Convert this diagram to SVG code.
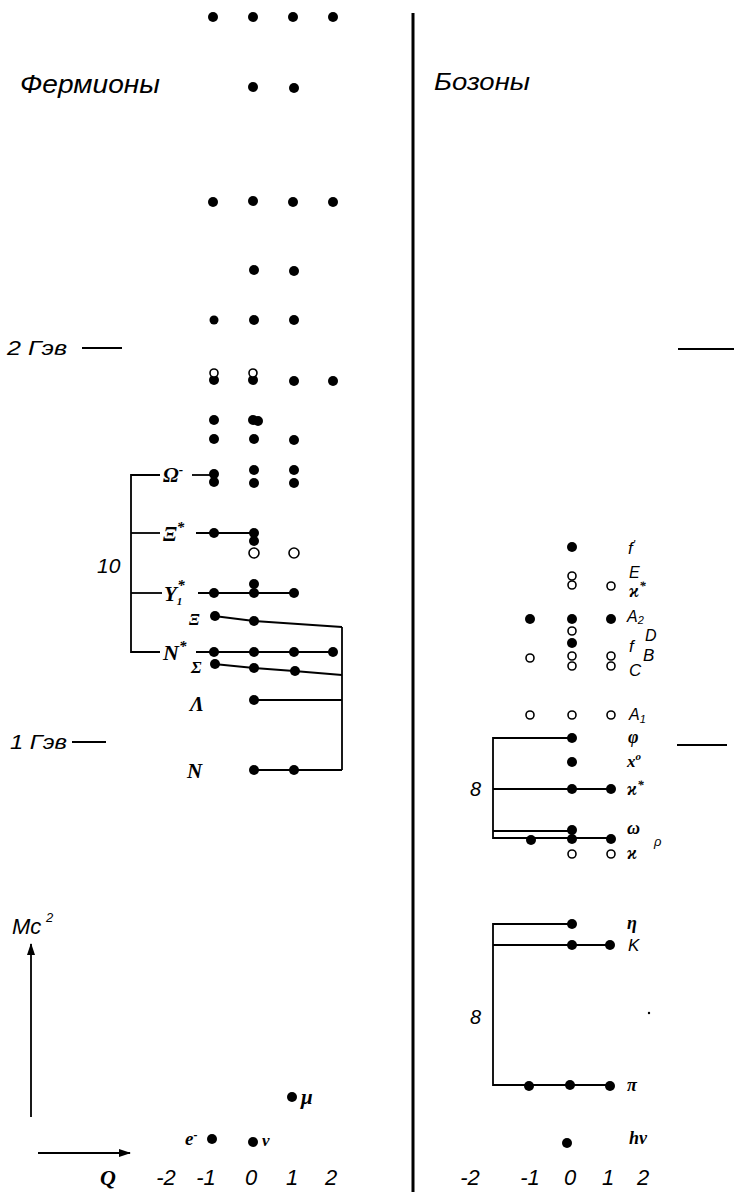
<svg xmlns="http://www.w3.org/2000/svg" width="734" height="1192" viewBox="0 0 734 1192">
<defs>
<style>
.f{fill:#000}
.o{fill:#fff;stroke:#000;stroke-width:1.6}
.ln{stroke:#000;stroke-width:1.8;fill:none}
.t{font-family:"Liberation Sans",sans-serif;font-style:italic;fill:#000}
.p{font-family:"Liberation Serif",serif;font-style:italic;font-weight:bold;fill:#000}
</style>
<marker id="ah" markerWidth="12" markerHeight="8" refX="11" refY="4" orient="auto" markerUnits="userSpaceOnUse">
<path d="M0,0 L12,4 L0,8 Z" fill="#000"/>
</marker>
</defs>
<rect width="734" height="1192" fill="#fff"/>

<g id="titles">
<text class="t" x="20" y="93" font-size="25" textLength="140" lengthAdjust="spacingAndGlyphs">Фермионы</text>
<text class="t" x="434" y="90" font-size="23" textLength="96" lengthAdjust="spacingAndGlyphs">Бозоны</text>
</g>

<g id="scale">
<text class="t" x="7" y="355" font-size="21" textLength="60" lengthAdjust="spacingAndGlyphs">2 Гэв</text>
<line class="ln" x1="82" y1="348" x2="122" y2="348"/>
<line class="ln" x1="678" y1="349" x2="734" y2="349"/>
<text class="t" x="10" y="749" font-size="21" textLength="57" lengthAdjust="spacingAndGlyphs">1 Гэв</text>
<line class="ln" x1="72" y1="742" x2="106" y2="742"/>
<line class="ln" x1="677" y1="745" x2="727" y2="745"/>
</g>

<g id="divider">
<line x1="413" y1="13" x2="413" y2="1192" stroke="#000" stroke-width="3"/>
</g>

<g id="axes">
<text class="t" x="12" y="934" font-size="22">Mc</text>
<text class="t" x="46" y="922" font-size="13">2</text>
<line class="ln" x1="31" y1="1117" x2="31" y2="944" marker-end="url(#ah)"/>
<line class="ln" x1="38" y1="1153" x2="130" y2="1153" marker-end="url(#ah)"/>
<text class="p" x="100" y="1185" font-size="22">Q</text>
<g class="t" font-size="22" text-anchor="middle">
<text x="166" y="1185">-2</text>
<text x="206" y="1185">-1</text>
<text x="251" y="1185">0</text>
<text x="292" y="1185">1</text>
<text x="331" y="1185">2</text>
<text x="470" y="1185">-2</text>
<text x="530" y="1185">-1</text>
<text x="570" y="1185">0</text>
<text x="608" y="1185">1</text>
<text x="643" y="1185">2</text>
</g>
</g>

<g id="connectors">
<polyline class="ln" points="160,475 131,475 131,652 160,652"/>
<line class="ln" x1="131" y1="533" x2="160" y2="533"/>
<line class="ln" x1="131" y1="593" x2="162" y2="593"/>
<line class="ln" x1="192" y1="475" x2="214" y2="475"/>
<line class="ln" x1="196" y1="533" x2="254" y2="533"/>
<line class="ln" x1="198" y1="593" x2="294" y2="593"/>
<line class="ln" x1="196" y1="652" x2="333" y2="652"/>
<polyline class="ln" points="214,616 254,621 342,627"/>
<polyline class="ln" points="214,664 254,668 294,671 342,675"/>
<line class="ln" x1="254" y1="700" x2="342" y2="700"/>
<line class="ln" x1="254" y1="770" x2="342" y2="770"/>
<line class="ln" x1="342" y1="627" x2="342" y2="770"/>
<polyline class="ln" points="572,738 493,738 493,838 611,838"/>
<line class="ln" x1="493" y1="789" x2="611" y2="789"/>
<line class="ln" x1="493" y1="831" x2="572" y2="831"/>
<polyline class="ln" points="572,924 493,924 493,1085 610,1085"/>
<line class="ln" x1="493" y1="945" x2="610" y2="945"/>
</g>

<g id="fermion-dots">
<circle class="f" cx="213" cy="17" r="5"/><circle class="f" cx="253" cy="17" r="5"/><circle class="f" cx="293" cy="17" r="5"/><circle class="f" cx="333" cy="17" r="5"/>
<circle class="f" cx="253" cy="87" r="5"/><circle class="f" cx="294" cy="88" r="5"/>
<circle class="f" cx="213" cy="202" r="5"/><circle class="f" cx="253" cy="201" r="5"/><circle class="f" cx="293" cy="202" r="5"/><circle class="f" cx="333" cy="202" r="5"/>
<circle class="f" cx="254" cy="270" r="5"/><circle class="f" cx="294" cy="271" r="5"/>
<circle class="f" cx="214" cy="320" r="4.5"/><circle class="f" cx="254" cy="320" r="5"/><circle class="f" cx="294" cy="320" r="5"/>
<circle class="f" cx="214" cy="380" r="5"/><circle class="f" cx="253" cy="380" r="5"/><circle class="f" cx="294" cy="381" r="5"/><circle class="f" cx="333" cy="381" r="5"/>
<circle class="o" cx="214" cy="373" r="4"/><circle class="o" cx="253" cy="373" r="4"/>
<circle class="f" cx="214" cy="420" r="5"/><circle class="f" cx="253" cy="420" r="5"/><circle class="f" cx="258" cy="421" r="5"/>
<circle class="f" cx="214" cy="439" r="5"/><circle class="f" cx="254" cy="439" r="5"/><circle class="f" cx="294" cy="440" r="5"/>
<circle class="f" cx="214" cy="474" r="5"/><circle class="f" cx="254" cy="470" r="5"/><circle class="f" cx="294" cy="470" r="5"/>
<circle class="f" cx="214" cy="482" r="5"/><circle class="f" cx="254" cy="483" r="5"/><circle class="f" cx="294" cy="483" r="5"/>
<circle class="f" cx="214" cy="533" r="5"/><circle class="f" cx="254" cy="533" r="5"/><circle class="f" cx="254" cy="541" r="5"/>
<circle class="o" cx="254" cy="553" r="5"/><circle class="o" cx="294" cy="553" r="5"/>
<circle class="f" cx="254" cy="584" r="5"/><circle class="f" cx="214" cy="593" r="5"/><circle class="f" cx="254" cy="593" r="5"/><circle class="f" cx="294" cy="593" r="5"/>
<circle class="f" cx="215" cy="616" r="5"/><circle class="f" cx="254" cy="621" r="5"/>
<circle class="f" cx="214" cy="652" r="5"/><circle class="f" cx="254" cy="652" r="5"/><circle class="f" cx="294" cy="652" r="5"/><circle class="f" cx="333" cy="652" r="5"/>
<circle class="f" cx="215" cy="664" r="5"/><circle class="f" cx="254" cy="668" r="5"/><circle class="f" cx="295" cy="671" r="5"/>
<circle class="f" cx="254" cy="700" r="5"/>
<circle class="f" cx="254" cy="770" r="5"/><circle class="f" cx="294" cy="770" r="5"/>
</g>

<g id="fermion-labels">
<text class="p" x="163" y="482" font-size="21">Ω<tspan font-size="13" dy="-8">-</tspan></text>
<text class="p" x="163" y="541" font-size="21">Ξ<tspan font-size="15" dy="-9">*</tspan></text>
<text class="p" x="164" y="601" font-size="21">Y<tspan font-size="11" dy="4">1</tspan><tspan font-size="15" dx="-5" dy="-15">*</tspan></text>
<text class="p" x="189" y="625" font-size="16">Ξ</text>
<text class="p" x="163" y="660" font-size="22">N<tspan font-size="15" dy="-9">*</tspan></text>
<text class="p" x="191" y="673" font-size="17">Σ</text>
<text class="p" x="190" y="711" font-size="21">Λ</text>
<text class="p" x="187" y="778" font-size="21">N</text>
<text class="t" x="97" y="573" font-size="21">10</text>
</g>

<g id="leptons">
<circle class="f" cx="212" cy="1139" r="5"/>
<circle class="f" cx="253" cy="1142" r="5"/>
<circle class="f" cx="292" cy="1097" r="5"/>
<text class="p" x="185" y="1145" font-size="19">e<tspan font-size="12" dy="-6">-</tspan></text>
<text class="p" x="262" y="1146" font-size="17">ν</text>
<text class="p" x="301" y="1104" font-size="21">μ</text>
</g>

<g id="boson-dots">
<circle class="f" cx="572" cy="547" r="5"/>
<circle class="o" cx="572" cy="576" r="4"/><circle class="o" cx="572" cy="585" r="4"/><circle class="o" cx="611" cy="586" r="4"/>
<circle class="f" cx="530" cy="619" r="5"/><circle class="f" cx="572" cy="619" r="5"/><circle class="f" cx="611" cy="619" r="5"/>
<circle class="o" cx="572" cy="631" r="4"/>
<circle class="f" cx="572" cy="643" r="5"/>
<circle class="o" cx="530" cy="658" r="4"/>
<circle class="o" cx="572" cy="656" r="4"/><circle class="o" cx="572" cy="666" r="4"/>
<circle class="o" cx="611" cy="656" r="4"/><circle class="o" cx="611" cy="666" r="4"/>
<circle class="o" cx="530" cy="715" r="4"/><circle class="o" cx="572" cy="715" r="4"/><circle class="o" cx="611" cy="715" r="4"/>
<circle class="f" cx="572" cy="738" r="5"/>
<circle class="f" cx="572" cy="762" r="5"/>
<circle class="f" cx="572" cy="789" r="5"/><circle class="f" cx="611" cy="789" r="5"/>
<circle class="f" cx="572" cy="830" r="5"/>
<circle class="f" cx="531" cy="840" r="5"/><circle class="f" cx="572" cy="839" r="5"/><circle class="f" cx="611" cy="839" r="5"/>
<circle class="o" cx="572" cy="854" r="4"/><circle class="o" cx="611" cy="854" r="4"/>
<circle class="f" cx="572" cy="924" r="5"/>
<circle class="f" cx="572" cy="945" r="5"/><circle class="f" cx="610" cy="945" r="5"/>
<circle class="f" cx="529" cy="1086" r="5"/><circle class="f" cx="570" cy="1085" r="5"/><circle class="f" cx="610" cy="1086" r="5"/>
<circle class="f" cx="567" cy="1143" r="5"/>
<circle class="f" cx="649" cy="1013" r="1.2"/>
</g>

<g id="boson-labels">
<text class="t" x="628" y="554" font-size="17">f<tspan font-size="12" dy="-5">'</tspan></text>
<text class="t" x="629" y="578" font-size="16">E</text>
<text class="p" x="629" y="597" font-size="18">ϰ<tspan font-size="13" dy="-7">*</tspan></text>
<text class="t" x="627" y="622" font-size="16">A<tspan font-size="11" dy="2">2</tspan></text>
<text class="t" x="645" y="641" font-size="16">D</text>
<text class="t" x="629" y="652" font-size="17">f</text>
<text class="t" x="643" y="661" font-size="17">B</text>
<text class="t" x="629" y="676" font-size="17">C</text>
<text class="t" x="629" y="720" font-size="16">A<tspan font-size="11" dy="3">1</tspan></text>
<text class="p" x="628" y="743" font-size="18">φ</text>
<text class="p" x="627" y="767" font-size="17">x<tspan font-size="11" dy="-7">o</tspan></text>
<text class="p" x="627" y="795" font-size="18">ϰ<tspan font-size="13" dy="-6">*</tspan></text>
<text class="p" x="627" y="834" font-size="18">ω</text>
<text class="t" x="654" y="846" font-size="13">ρ</text>
<text class="p" x="627" y="859" font-size="18">ϰ</text>
<text class="p" x="627" y="929" font-size="18">η</text>
<text class="t" x="628" y="951" font-size="17">K</text>
<text class="p" x="627" y="1091" font-size="18">π</text>
<text class="p" x="629" y="1144" font-size="18">hν</text>
<text class="t" x="470" y="1024" font-size="20">8</text>
<text class="t" x="470" y="796" font-size="20">8</text>
</g>
</svg>
